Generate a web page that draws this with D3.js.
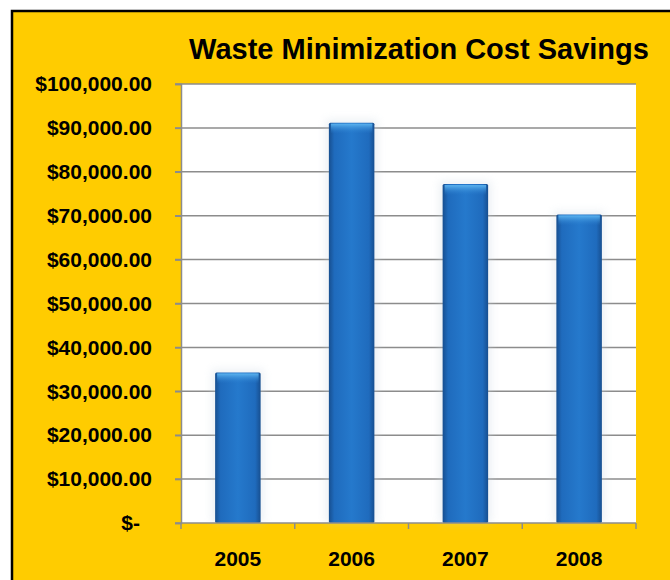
<!DOCTYPE html>
<html>
<head>
<meta charset="utf-8">
<script src="https://cdn.jsdelivr.net/npm/d3@7"></script>
<style>
  body { margin: 0; background: #fff; }
  text { font-family: "Liberation Sans", Arial, sans-serif; font-weight: bold; fill: #000; }
</style>
</head>
<body>
<svg id="chart" width="670" height="580"></svg>
<script>
"use strict";

// data
var years = ["2005", "2006", "2007", "2008"];
var savings = [34300, 91200, 77200, 70300];
var yTicks = [0, 10000, 20000, 30000, 40000, 50000, 60000, 70000, 80000, 90000, 100000];
var chartTitle = "Waste Minimization Cost Savings";

var svg = d3.select("#chart");
var plotLeft = 181, plotRight = 636, plotTop = 84, plotBottom = 523;

// yellow frame with black border on top/left
svg.append("rect")
    .attr("x", 12).attr("y", 11)
    .attr("width", 700).attr("height", 600)
    .style("fill", "#ffcc00")
    .style("stroke", "#000")
    .attr("stroke-width", 2.5);

var x = d3.scaleBand().domain(years).range([plotLeft, plotRight]).paddingInner(0.6).paddingOuter(0.3);
var xEdge = d3.scaleBand().domain(years).range([plotLeft, plotRight]);
var y = d3.scaleLinear().domain([0, 100000]).range([plotBottom, plotTop]);

// gradients for the bars
var defs = svg.append("defs");
var grad = defs.append("linearGradient").attr("id", "barGrad")
    .attr("x1", "0").attr("x2", "1").attr("y1", "0").attr("y2", "0");
grad.append("stop").attr("offset", "0").attr("stop-color", "#174f90");
grad.append("stop").attr("offset", "0.12").attr("stop-color", "#1f6bbd");
grad.append("stop").attr("offset", "0.5").attr("stop-color", "#2579cc");
grad.append("stop").attr("offset", "0.88").attr("stop-color", "#1f6bbd");
grad.append("stop").attr("offset", "1").attr("stop-color", "#174f90");
var topGrad = defs.append("linearGradient").attr("id", "topGrad")
    .attr("x1", "0").attr("x2", "0").attr("y1", "0").attr("y2", "1");
topGrad.append("stop").attr("offset", "0").attr("stop-color", "#5cb4f0").attr("stop-opacity", 1);
topGrad.append("stop").attr("offset", "1").attr("stop-color", "#2a7fd0").attr("stop-opacity", 0);
var blur = defs.append("filter").attr("id", "shadow").attr("x", "-50%").attr("width", "200%");
blur.append("feGaussianBlur").attr("stdDeviation", 4);

// white plot area
svg.append("rect")
    .attr("x", plotLeft).attr("y", plotTop)
    .attr("width", plotRight - plotLeft).attr("height", plotBottom - plotTop)
    .style("fill", "#fff");

// gridlines
svg.append("g")
  .selectAll("line")
  .data(yTicks.slice(1))
  .enter()
  .append("line")
    .attr("x1", plotLeft - 6).attr("x2", plotRight)
    .attr("y1", function(d) { return y(d); })
    .attr("y2", function(d) { return y(d); })
    .style("stroke", "#8c8c8c")
    .attr("stroke-width", 1.5);

// soft shadow behind bars
svg.append("g")
  .selectAll("rect")
  .data(savings)
  .enter()
  .append("rect")
    .attr("x", function(d, i) { return x(years[i]) - 3; })
    .attr("y", function(d) { return y(d) - 3; })
    .attr("width", x.bandwidth() + 6)
    .attr("height", function(d) { return plotBottom - y(d) + 3; })
    .style("fill", "#c8d4e0")
    .style("opacity", 0.35)
    .attr("filter", "url(#shadow)");

var bars = svg.append("g")
  .selectAll("g")
  .data(savings)
  .enter()
  .append("g");

bars.append("rect")
    .attr("x", function(d, i) { return x(years[i]); })
    .attr("y", function(d) { return y(d); })
    .attr("width", x.bandwidth())
    .attr("height", function(d) { return plotBottom - y(d); })
    .attr("rx", 1.5)
    .style("fill", "url(#barGrad)");

bars.append("rect")
    .attr("x", function(d, i) { return x(years[i]) + 2; })
    .attr("y", function(d) { return y(d) + 1; })
    .attr("width", x.bandwidth() - 4)
    .attr("height", 10)
    .style("fill", "url(#topGrad)");

// axes
var yAxis = svg.append("g")
    .attr("transform", "translate(" + plotLeft + ",0)")
    .call(d3.axisLeft(y).tickValues(yTicks).tickSize(6).tickPadding(23)
      .tickFormat(function(d) { return d === 0 ? "$-" : "$" + d3.format(",.2f")(d); }));
yAxis.select(".domain").style("stroke", "#8c8c8c").attr("stroke-width", 1.5);
yAxis.selectAll(".tick line").style("stroke", "#8c8c8c").attr("stroke-width", 1.5);
yAxis.selectAll(".tick text")
    .attr("font-size", 21)
    .attr("font-family", "Liberation Sans, Arial, sans-serif")
    .attr("dx", function(d) { return d === 0 ? -12 : 0; });

var xAxis = svg.append("g")
    .attr("transform", "translate(0," + plotBottom + ")");
xAxis.append("line")
    .attr("x1", plotLeft - 6).attr("x2", plotRight)
    .style("stroke", "#8c8c8c").attr("stroke-width", 1.5);
xAxis.selectAll("line.tk")
  .data(years.concat(["end"]))
  .enter()
  .append("line")
    .attr("class", "tk")
    .attr("x1", function(d, i) { return plotLeft + i * xEdge.step(); })
    .attr("x2", function(d, i) { return plotLeft + i * xEdge.step(); })
    .attr("y1", 0).attr("y2", 6)
    .style("stroke", "#8c8c8c").attr("stroke-width", 1.5);
xAxis.selectAll("text")
  .data(years)
  .enter()
  .append("text")
    .attr("x", function(d) { return x(d) + x.bandwidth() / 2; })
    .attr("y", 43)
    .attr("text-anchor", "middle")
    .attr("font-size", 21)
    .text(function(d) { return d; });

svg.append("text")
    .attr("x", 419).attr("y", 59)
    .attr("text-anchor", "middle")
    .attr("font-size", 29)
    .text(chartTitle);
</script>
</body>
</html>
